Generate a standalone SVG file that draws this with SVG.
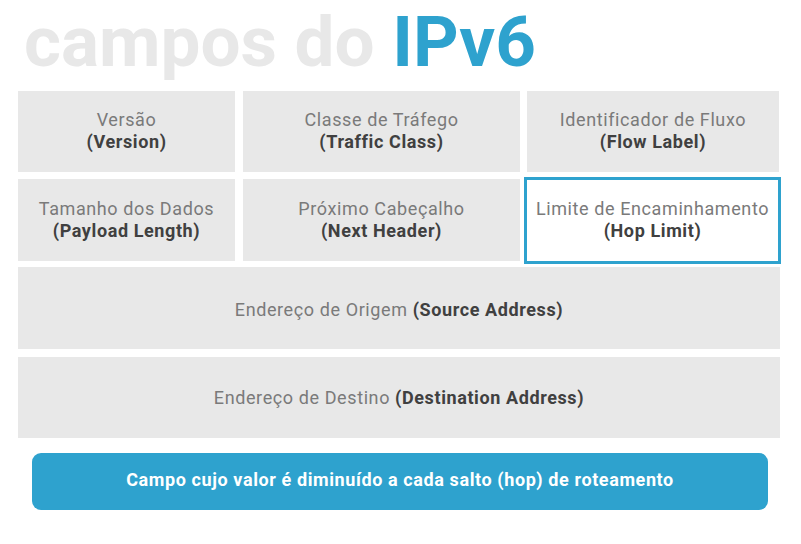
<svg xmlns="http://www.w3.org/2000/svg" width="801" height="544" viewBox="0 0 801 544">
<style>
.box{fill:#e8e8e8}
.t{font-family:Roboto,"Liberation Sans",sans-serif;font-size:18px;letter-spacing:0.6px;text-anchor:middle}
.r{fill:#7a7a7a}
.b{fill:#404040;font-weight:700}
.title{font-family:Roboto,"Liberation Sans",sans-serif;font-size:71px;font-weight:700}
</style>
<rect width="801" height="544" fill="#ffffff"/>
<g id="title">
<text class="title" x="24" y="66"><tspan fill="#e8e8e8">campos do </tspan><tspan fill="#2ea2ce">IPv6</tspan></text>
</g>
<g id="version">
<rect class="box" x="18" y="91" width="217" height="81"/>
<text class="t r" x="126.5" y="126">Versão</text>
<text class="t b" x="126.5" y="148">(Version)</text>
</g>
<g id="traffic-class">
<rect class="box" x="243" y="91" width="277" height="81"/>
<text class="t r" x="381.5" y="126">Classe de Tráfego</text>
<text class="t b" x="381.5" y="148">(Traffic Class)</text>
</g>
<g id="flow-label">
<rect class="box" x="527" y="91" width="252" height="81"/>
<text class="t r" x="653" y="126">Identificador de Fluxo</text>
<text class="t b" x="653" y="148">(Flow Label)</text>
</g>
<g id="payload-length">
<rect class="box" x="18" y="179" width="217" height="82"/>
<text class="t r" x="126.5" y="215">Tamanho dos Dados</text>
<text class="t b" x="126.5" y="237">(Payload Length)</text>
</g>
<g id="next-header">
<rect class="box" x="243" y="179" width="277" height="82"/>
<text class="t r" x="381.5" y="215">Próximo Cabeçalho</text>
<text class="t b" x="381.5" y="237">(Next Header)</text>
</g>
<g id="hop-limit">
<rect x="525.5" y="178.5" width="254" height="84" fill="#ffffff" stroke="#2ea2ce" stroke-width="3"/>
<text class="t r" x="652.5" y="215">Limite de Encaminhamento</text>
<text class="t b" x="652.5" y="237">(Hop Limit)</text>
</g>
<g id="source-address">
<rect class="box" x="18" y="267" width="762" height="82"/>
<text class="t" x="399" y="316"><tspan class="r">Endereço de Origem </tspan><tspan class="b">(Source Address)</tspan></text>
</g>
<g id="destination-address">
<rect class="box" x="18" y="357" width="762" height="81"/>
<text class="t" x="399" y="404"><tspan class="r">Endereço de Destino </tspan><tspan class="b">(Destination Address)</tspan></text>
</g>
<g id="note">
<rect x="32" y="453" width="736" height="57" rx="9" fill="#2ea2ce"/>
<text class="t" x="400" y="486" fill="#ffffff" font-weight="700">Campo cujo valor é diminuído a cada salto (hop) de roteamento</text>
</g>
<g id="connectors"/>
</svg>
